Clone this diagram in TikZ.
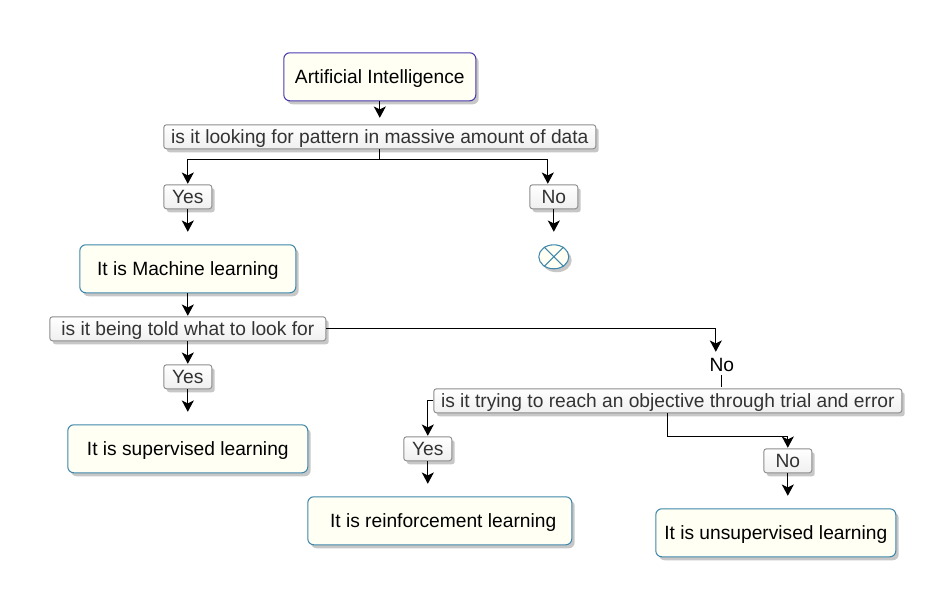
\documentclass[tikz,border=0pt]{standalone}
\usepackage{fontspec}
\setmainfont{Liberation Sans}
\usepackage{xcolor}
\definecolor{colNote}{HTML}{FFFFF4}
\definecolor{colNoteLine}{HTML}{3F87AB}
\definecolor{colRootLine}{HTML}{4A3AAE}
\definecolor{colLabelLine}{HTML}{8C8C8C}
\definecolor{colLabelText}{HTML}{333333}
\usetikzlibrary{arrows.meta, shapes.geometric, shadows}
\tikzset{
	flat shadow/.style={drop shadow={shadow xshift=2.2pt, shadow yshift=-2.6pt, fill=black!40, opacity=0.55}},
	label font/.style={font=\fontsize{14.4pt}{16pt}\selectfont, text height=12.8pt, text depth=2.6pt},
	notebox/.style={draw=colNoteLine, fill=colNote, rounded corners=4.5pt, line width=0.8pt, flat shadow,
		minimum height=36pt, inner sep=0pt, label font},
	labelbox/.style={draw=colLabelLine, top color=white, bottom color=black!6, rounded corners=2pt, line width=0.7pt,
		flat shadow, minimum height=18pt, inner sep=0pt, text=colLabelText, label font},
	flow/.style={-{Stealth[length=8.5pt, width=9pt, inset=2.2pt]}, line width=0.75pt, black},
}
\begin{document}
\begin{tikzpicture}[x=0.75pt, y=-0.75pt]
	\useasboundingbox (0.2,0.2) rectangle (935.2,613.2);
	% top of the tree
	\node[notebox, draw=colRootLine, minimum width=144pt] (root) at (380,77) {Artificial Intelligence};
	\node[labelbox, minimum width=324pt] (lookdata) at (380,137) {is it looking for pattern in massive amount of data};
	\node[labelbox, minimum width=36pt] (yesdata) at (188,197) {Yes};
	\node[labelbox, minimum width=36pt] (nodata) at (554,197) {No};
	\node[ellipse, draw=colNoteLine, fill=colNote, line width=0.8pt, minimum width=22.5pt, minimum height=18pt, inner sep=0pt, flat shadow] (stopdata) at (554,257) {};
	\draw[colNoteLine, line width=0.8pt] (stopdata.45) -- (stopdata.225) (stopdata.135) -- (stopdata.315);
	\coordinate (rootend) at (380,118);
	\coordinate (yesdataend) at (188,232);
	\coordinate (nodataend) at (554,232);
	\coordinate (yestip) at (188,184);
	\coordinate (notip) at (548,184);
	\draw[flow] (root.south) -- (rootend);
	\draw[flow] (lookdata.south) -- (380,160) -| (yestip);
	\draw[flow] (lookdata.south) -- (380,160) -| (notip);
	\draw[flow] (yesdata.south) -- (yesdataend);
	\draw[flow] (nodata.south) -- (nodataend);
	% machine learning branch
	\node[notebox, minimum width=162pt] (machine) at (188,269) {It is Machine learning};
	\node[labelbox, minimum width=207pt] (toldlook) at (188,329) {is it being told what to look for};
	\node[labelbox, minimum width=36pt] (yestold) at (188,377) {Yes};
	\node[notebox, minimum width=180pt] (supervised) at (188,449) {It is supervised learning};
	\coordinate (machineend) at (188,316);
	\coordinate (toldend) at (188,364);
	\coordinate (yestoldend) at (188,412);
	\draw[flow] (machine.south) -- (machineend);
	\draw[flow] (toldlook.south) -- (toldend);
	\draw[flow] (yestold.south) -- (yestoldend);
	% trial and error branch
	\node[inner sep=0pt, minimum width=20pt, label font] (notold) at (722,365) {No};
	\node[labelbox, minimum width=351pt] (trial) at (668,401) {is it trying to reach an objective through trial and error};
	\node[labelbox, minimum width=36pt] (yestrial) at (428,449) {Yes};
	\node[labelbox, minimum width=36pt] (notrial) at (788,461) {No};
	\node[notebox, minimum width=198pt] (reinforce) at (440,521) {\hspace*{5pt}It is reinforcement learning};
	\node[notebox, minimum width=180pt] (unsupervised) at (776,533) {It is unsupervised learning};
	\coordinate (notoldtip) at (716,352);
	\coordinate (notoldend) at (722,387);
	\coordinate (yestrialtip) at (428,436);
	\coordinate (notrialtip) at (788,448);
	\coordinate (yestrialend) at (428,484);
	\coordinate (notrialend) at (788,496);
	\draw[flow] (toldlook.east) -| (notoldtip);
	\draw[line width=0.75pt] (notold.south) -- (notoldend);
	\draw[flow] (trial.west) -| (yestrialtip);
	\draw[flow] (trial.south) |- (788,437) -- (notrialtip);
	\draw[flow] (yestrial.south) -- (yestrialend);
	\draw[flow] (notrial.south) -- (notrialend);
\end{tikzpicture}
\end{document}
